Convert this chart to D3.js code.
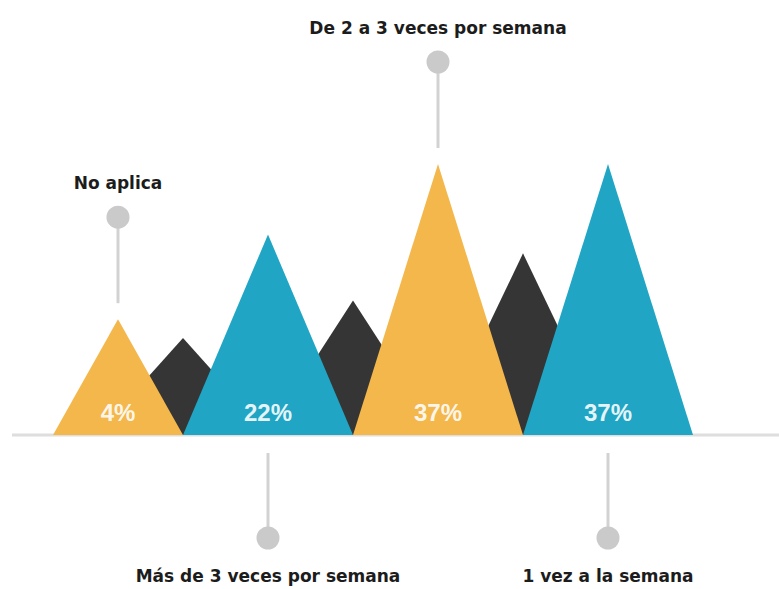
<!DOCTYPE html>
<html>
<head>
<meta charset="utf-8">
<script src="https://cdn.jsdelivr.net/npm/d3@7"></script>
<style>
  html, body { margin: 0; padding: 0; background: #fff; }
  svg { display: block; }
</style>
</head>
<body>
<svg id="chart" width="779" height="589"></svg>
<script>
// Chart data
const categories = ['No aplica', 'Más de 3 veces por semana', 'De 2 a 3 veces por semana', '1 vez a la semana'];
const values = [4, 22, 37, 37];
const peakColors = ['#F3B74C', '#20A6C4', '#F3B74C', '#20A6C4'];
const pinSides = ['top', 'bottom', 'top', 'bottom'];
// decorative dark ridges sitting between the peaks (same value scale)
const ridgeValues = [0, 8, 18];

const svg = d3.select('#chart');
const baseY = 435;
const startX = 53;

// Height of a peak from its value
const height = d3.scaleLinear().domain([0, 37]).range([97, 271]);
// Base width of a peak from its value (small values get narrower peaks)
const baseWidth = d3.scaleLinear().domain([4, 22]).range([130, 170]).clamp(true);
const ridgeHalf = 87;

// Lay peaks edge to edge
let cursor = startX;
const peaks = values.map((v, i) => {
  const w = baseWidth(v);
  const p = { label: categories[i], value: v, color: peakColors[i], side: pinSides[i],
    x0: cursor, x1: cursor + w, cx: cursor + w / 2, h: height(v) };
  cursor += w;
  return p;
});
const ridges = ridgeValues.map((v, i) => ({ cx: peaks[i].x1, h: height(v) }));

const tri = (cx, half, h) => `M${cx - half},${baseY} L${cx},${baseY - h} L${cx + half},${baseY} Z`;

// Baseline
svg.append('line')
  .attr('x1', 12).attr('x2', 779)
  .attr('y1', baseY).attr('y2', baseY)
  .attr('stroke', '#DEDEDE').attr('stroke-width', 3);

// Dark ridges behind
svg.selectAll('.ridge')
  .data(ridges)
  .enter()
  .append('path')
  .attr('class', 'ridge')
  .attr('d', d => tri(d.cx, ridgeHalf, d.h))
  .attr('fill', '#353535');

// Coloured peaks
svg.selectAll('.peak')
  .data(peaks)
  .enter()
  .append('path')
  .attr('class', 'peak')
  .attr('d', d => tri(d.cx, (d.x1 - d.x0) / 2, d.h))
  .attr('fill', d => d.color);

// Percent labels
svg.selectAll('.pct')
  .data(peaks)
  .enter()
  .append('text')
  .attr('class', 'pct')
  .attr('x', d => d.cx)
  .attr('y', 421)
  .attr('text-anchor', 'middle')
  .style('font-family', '"Liberation Sans", Arial, sans-serif')
  .style('font-weight', 'bold')
  .style('font-size', '24px')
  .style('fill', '#fff')
  .style('fill-opacity', 0.9)
  .text(d => d.value + '%');

// Pins with category labels
const pinGap = 16;
const stemLen = 86;
peaks.forEach(d => {
  const g = svg.append('g').attr('class', 'pin');
  let yStemEnd, yCircle, yText;
  if (d.side === 'top') {
    yStemEnd = baseY - d.h - pinGap;
    yCircle = yStemEnd - stemLen;
    yText = yCircle - 28;
  } else {
    yStemEnd = baseY + 18;
    yCircle = yStemEnd + 85;
    yText = yCircle + 44;
  }
  g.append('line')
    .attr('x1', d.cx).attr('x2', d.cx)
    .attr('y1', yStemEnd).attr('y2', yCircle)
    .attr('stroke', '#D2D2D2').attr('stroke-width', 3);
  g.append('circle')
    .attr('cx', d.cx).attr('cy', yCircle).attr('r', 11.5)
    .attr('fill', '#CACACA');
  g.append('text')
    .attr('x', d.cx).attr('y', yText)
    .attr('text-anchor', 'middle')
    .style('font-family', '"DejaVu Sans", sans-serif')
    .style('font-weight', 'bold')
    .style('font-size', '17px')
    .style('fill', '#1c1c1c')
    .text(d.label);
});
</script>
</body>
</html>
